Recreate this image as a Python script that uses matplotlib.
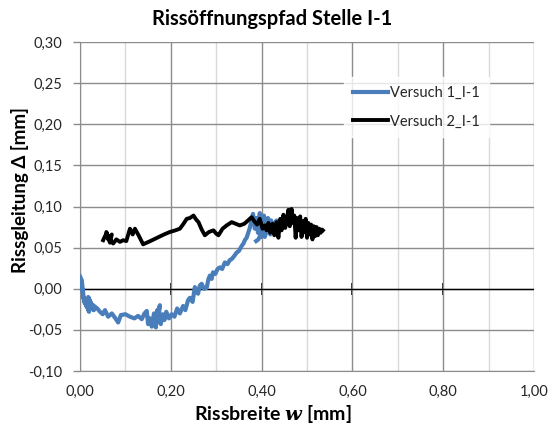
import matplotlib
matplotlib.use("Agg")
from matplotlib import pyplot as plt
from matplotlib.ticker import MultipleLocator, FuncFormatter

# Versuch 1_I-1 (blue)
w1 = [0.000, 0.004, 0.007, 0.003, 0.011, 0.006, 0.015, 0.009, 0.020, 0.014,
      0.026, 0.018, 0.030, 0.024, 0.038, 0.044, 0.050, 0.055, 0.062, 0.070,
      0.078, 0.084, 0.090, 0.100, 0.110, 0.120, 0.128, 0.136, 0.142, 0.147,
      0.150, 0.154, 0.158, 0.163, 0.167, 0.170, 0.172, 0.176, 0.169, 0.178,
      0.182, 0.186, 0.190, 0.196, 0.202, 0.208, 0.214, 0.220, 0.227, 0.232,
      0.238, 0.242, 0.248, 0.253, 0.257, 0.260, 0.264, 0.268, 0.273, 0.279,
      0.283, 0.286, 0.290, 0.293, 0.298, 0.303, 0.308, 0.313, 0.319, 0.325,
      0.330, 0.334, 0.340, 0.345, 0.350, 0.356, 0.360, 0.363, 0.367, 0.370,
      0.374, 0.378, 0.381, 0.384, 0.385, 0.389, 0.392, 0.396, 0.399, 0.402,
      0.396, 0.405, 0.410, 0.414, 0.418, 0.421, 0.425, 0.429, 0.433, 0.428,
      0.424, 0.419, 0.413, 0.407, 0.402, 0.397, 0.393, 0.388]
d1 = [0.015, 0.010, -0.006, 0.004, -0.018, -0.008, -0.022, -0.012, -0.028, -0.016,
      -0.020, -0.010, -0.026, -0.018, -0.024, -0.028, -0.031, -0.026, -0.034, -0.030,
      -0.036, -0.041, -0.032, -0.031, -0.034, -0.036, -0.033, -0.037, -0.030, -0.027,
      -0.043, -0.036, -0.046, -0.030, -0.047, -0.026, -0.040, -0.020, -0.035, -0.043,
      -0.031, -0.038, -0.028, -0.036, -0.031, -0.034, -0.024, -0.030, -0.021, -0.026,
      -0.014, -0.011, -0.016, 0.002, -0.004, -0.006, 0.004, 0.006, 0.000, 0.001,
      0.012, 0.016, 0.012, 0.020, 0.018, 0.024, 0.026, 0.024, 0.032, 0.030,
      0.035, 0.036, 0.040, 0.044, 0.046, 0.052, 0.055, 0.059, 0.062, 0.067,
      0.074, 0.083, 0.091, 0.080, 0.073, 0.086, 0.068, 0.092, 0.063, 0.084,
      0.078, 0.089, 0.076, 0.086, 0.079, 0.083, 0.069, 0.080, 0.083, 0.072,
      0.079, 0.066, 0.074, 0.063, 0.071, 0.065, 0.060, 0.058]

# Versuch 2_I-1 (black)
w2 = [0.051, 0.055, 0.059, 0.062, 0.058, 0.066, 0.070, 0.064, 0.073, 0.080,
      0.088, 0.095, 0.102, 0.110, 0.116, 0.121, 0.130, 0.139, 0.155, 0.170,
      0.185, 0.198, 0.210, 0.220, 0.228, 0.235, 0.242, 0.250, 0.256, 0.261,
      0.268, 0.275, 0.284, 0.294, 0.300, 0.305, 0.314, 0.323, 0.334, 0.343,
      0.352, 0.362, 0.370, 0.378, 0.384, 0.390, 0.396, 0.402, 0.407, 0.411,
      0.415, 0.419, 0.424, 0.428, 0.433, 0.437, 0.441, 0.444, 0.448, 0.452,
      0.455, 0.459, 0.462, 0.466, 0.469, 0.472, 0.475, 0.478, 0.482, 0.485,
      0.488, 0.491, 0.494, 0.497, 0.500, 0.503, 0.506, 0.509, 0.512, 0.515,
      0.518, 0.521, 0.524, 0.527, 0.530, 0.533, 0.535]
d2 = [0.059, 0.064, 0.067, 0.060, 0.069, 0.056, 0.066, 0.061, 0.055, 0.060,
      0.057, 0.059, 0.058, 0.073, 0.066, 0.073, 0.064, 0.054, 0.058, 0.062,
      0.066, 0.069, 0.071, 0.073, 0.079, 0.085, 0.086, 0.089, 0.084, 0.081,
      0.072, 0.065, 0.069, 0.071, 0.067, 0.065, 0.073, 0.077, 0.081, 0.079,
      0.077, 0.079, 0.083, 0.087, 0.082, 0.078, 0.085, 0.073, 0.077, 0.071,
      0.080, 0.068, 0.079, 0.065, 0.081, 0.062, 0.085, 0.071, 0.090, 0.074,
      0.083, 0.096, 0.076, 0.097, 0.080, 0.089, 0.062, 0.086, 0.071, 0.088,
      0.063, 0.082, 0.069, 0.085, 0.062, 0.080, 0.066, 0.078, 0.060, 0.076,
      0.064, 0.075, 0.065, 0.073, 0.068, 0.072, 0.071]

x_ticks = [0.0, 0.2, 0.4, 0.6, 0.8, 1.0]
y_ticks = [-0.10, -0.05, 0.0, 0.05, 0.10, 0.15, 0.20, 0.25, 0.30]

plt.rcParams["font.family"] = ["Lato", "DejaVu Sans"]
plt.rcParams["mathtext.fontset"] = "dejavuserif"

fig = plt.figure(figsize=(5.52, 4.32), dpi=100)
ax = fig.add_axes([80 / 552, 1 - 371 / 432, 454 / 552, 329 / 432])

ax.set_xlim(0, 1.0)
ax.set_ylim(-0.10, 0.30)

# grid: minor vertical light, major grey
ax.set_xticks(x_ticks)
ax.xaxis.set_minor_locator(MultipleLocator(0.1))
ax.set_yticks(y_ticks)
ax.grid(which="minor", axis="x", color="#d9d9d9", lw=1.0, zorder=0)
ax.grid(which="major", axis="x", color="#8c8c8c", lw=1.0, zorder=0)
ax.grid(which="major", axis="y", color="#8c8c8c", lw=1.0, zorder=0)

for s in ["top", "right"]:
    ax.spines[s].set_visible(False)
ax.spines["left"].set_color("#8c8c8c")
ax.spines["bottom"].set_color("#8c8c8c")

fmt = FuncFormatter(lambda v, p: f"{v:.2f}".replace(".", ",").replace("-0,00", "0,00"))
ax.xaxis.set_major_formatter(fmt)
ax.yaxis.set_major_formatter(fmt)
ax.tick_params(axis="x", which="both", length=0, pad=10, labelsize=10.5, labelcolor="#262626")
ax.tick_params(axis="y", length=5, color="#8c8c8c", width=1, pad=8, labelsize=10.5, labelcolor="#262626")

# zero line with crossing ticks
ax.axhline(0, color="black", lw=1.0, zorder=2)
sec = ax.secondary_xaxis(0.25)
sec.set_xticks(x_ticks[1:-1])
sec.tick_params(direction="inout", length=9, width=1.2, color="black", labelbottom=False)
sec.spines["bottom"].set_visible(False)

ax.plot(w1, d1, color="#4a7ebb", lw=3.0, label="Versuch 1_I-1", zorder=3,
        solid_joinstyle="round")
ax.plot(w2, d2, color="black", lw=2.8, label="Versuch 2_I-1", zorder=4,
        solid_joinstyle="round")

leg = ax.legend(loc="upper left", bbox_to_anchor=(0.566, 0.915), frameon=True,
                fontsize=10.5, handlelength=2.4, handletextpad=0.15,
                labelspacing=1.0, borderpad=0.6, fancybox=False)
leg.get_frame().set_facecolor("white")
leg.get_frame().set_edgecolor("white")
for t in leg.get_texts():
    t.set_color("#262626")

fig.text(272 / 552, 1 - 19 / 432, "Rissöffnungspfad Stelle I-1", ha="center", va="center",
         fontsize=14.5, fontweight="bold")
fig.text(273 / 552, 1 - 414 / 432, r"Rissbreite $\mathbfit{w}$ [mm]", ha="center", va="center",
         fontsize=14, fontweight="bold")
fig.text(20 / 552, 1 - 190 / 432, "Rissgleitung Δ [mm]", ha="center", va="center",
         rotation=90, fontsize=13.5, fontweight="bold")

fig.savefig("out.png", dpi=100)
